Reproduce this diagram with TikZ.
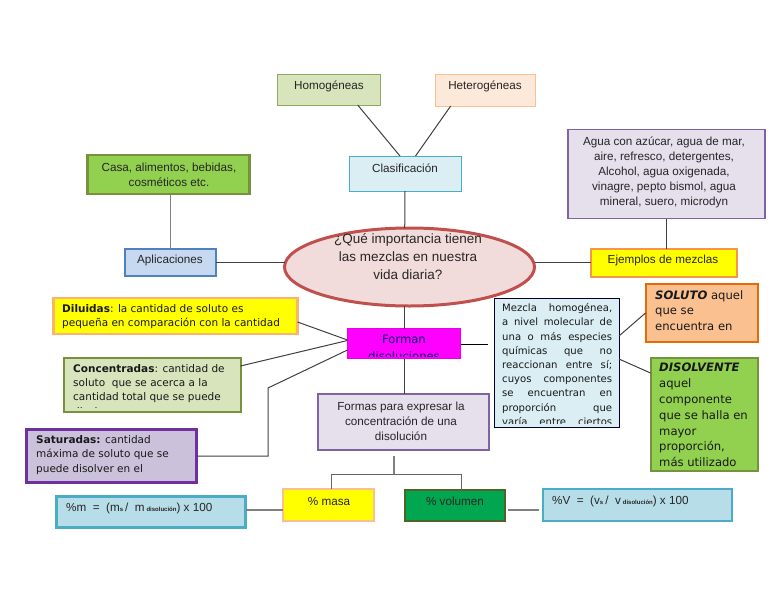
\documentclass[tikz,border=0pt]{standalone}
\usepackage{fontspec}
\usetikzlibrary{shapes.geometric}
\setmainfont{Liberation Sans}
\newfontfamily\verdanafont{DejaVu Sans}
\definecolor{lightgreen}{HTML}{D7E4BC}
\definecolor{darkgreen}{HTML}{76923C}
\definecolor{midgreen}{HTML}{92D050}
\definecolor{paleorange}{HTML}{FDE9D9}
\definecolor{midorange}{HTML}{F79646}
\definecolor{softorange}{HTML}{FAC08F}
\definecolor{deeporange}{HTML}{E36C09}
\definecolor{paleblue}{HTML}{DAEEF3}
\definecolor{cyanblue}{HTML}{4BACC6}
\definecolor{softblue}{HTML}{B7DDE8}
\definecolor{skyblue}{HTML}{C6D9F1}
\definecolor{steelblue}{HTML}{4F81BD}
\definecolor{palepurple}{HTML}{E5E0EC}
\definecolor{midpurple}{HTML}{8064A2}
\definecolor{softpurple}{HTML}{CCC1DA}
\definecolor{deeppurple}{HTML}{7030A0}
\definecolor{palered}{HTML}{F2DCDB}
\definecolor{midred}{HTML}{C0504D}
\definecolor{mixgreen}{HTML}{00A650}
\definecolor{olivegreen}{HTML}{4F6228}
\definecolor{linkgray}{HTML}{404040}
\definecolor{mapyellow}{HTML}{FFFF00}
\definecolor{mapmagenta}{HTML}{FF00FF}
\tikzset{
  mapbox/.style={draw, rectangle, inner sep=0pt, outer sep=0pt},
  arialtext/.style={inner sep=0pt, align=center, text=black!85, font=\fontsize{11.7}{15.2}\selectfont},
  verdanatext/.style={inner sep=0pt, anchor=west, align=left, text=black!90, font=\verdanafont\fontsize{10.5}{14.3}\selectfont},
  bigtext/.style={inner sep=0pt, anchor=west, align=left, text=black!90, font=\verdanafont\fontsize{11.6}{15.8}\selectfont},
  link/.style={draw=linkgray, line width=1pt},
  graylink/.style={draw=gray, line width=1.5pt}
}
\newcommand{\jline}[1]{\makebox[110pt][s]{#1}}
\newcommand{\tinysub}[1]{{\fontsize{6}{6}\selectfont\bfseries #1}}
\begin{document}
\begin{tikzpicture}[x=1pt,y=-1pt]
  \useasboundingbox (0,0) rectangle (768,594);
  % Central question
  \node[mapbox, shape=ellipse, draw=midred, fill=palered, line width=3pt, minimum width=250pt, minimum height=78pt] (question) at (409.5,267) {};
  \node[arialtext, font=\fontsize{13.5}{18}\selectfont] (questiontext) at (408,256.5) {¿Qué importancia tienen\\las mezclas en nuestra\\vida diaria?};
  % Classification
  \node[mapbox, draw=darkgreen!80, fill=lightgreen, line width=1pt, minimum width=103pt, minimum height=31pt] (homog) at (328.5,89.5) {};
  \node[arialtext] (homogtext) at (329,86.5) {Homogéneas};
  \node[mapbox, draw=softorange, fill=paleorange, line width=1pt, minimum width=100pt, minimum height=32pt] (heterog) at (485,90) {};
  \node[arialtext] (heterogtext) at (485,86.5) {Heterogéneas};
  \node[mapbox, draw=cyanblue, fill=paleblue, line width=1pt, minimum width=112pt, minimum height=35pt] (clasif) at (405,173.5) {};
  \node[arialtext] (clasiftext) at (405,168) {Clasificación};
  % Applications
  \node[mapbox, draw=darkgreen, fill=midgreen, line width=2.5pt, minimum width=162pt, minimum height=39pt] (casa) at (168.5,174.5) {};
  \node[arialtext] (casatext) at (169,175) {Casa, alimentos, bebidas,\\cosméticos etc.};
  \node[mapbox, draw=steelblue, fill=skyblue, line width=2.5pt, minimum width=91pt, minimum height=27pt] (aplic) at (170.5,262.5) {};
  \node[arialtext] (aplictext) at (170,260) {Aplicaciones};
  % Examples
  \node[mapbox, draw=midpurple, fill=palepurple, line width=1.2pt, minimum width=197pt, minimum height=89pt] (agua) at (666.5,174) {};
  \node[arialtext] (aguatext) at (664,172.5) {Agua con azúcar, agua de mar,\\aire, refresco, detergentes,\\Alcohol, agua oxigenada,\\vinagre, pepto bismol, agua\\mineral, suero, microdyn};
  \node[mapbox, draw=midorange, fill=mapyellow, line width=2pt, minimum width=146pt, minimum height=28pt] (ejemplos) at (663.5,262.5) {};
  \node[arialtext] (ejemplostext) at (663,260) {Ejemplos de mezclas};
  % Types of solution
  \node[mapbox, draw=softorange!80!orange, fill=mapyellow, line width=2.2pt, minimum width=244pt, minimum height=36pt] (diluidas) at (175.5,316) {};
  \node[verdanatext] (diluidastext) at (62,316.5) {\textbf{Diluidas}: la cantidad de soluto es\\pequeña en comparación con la cantidad};
  \node[mapbox, draw=darkgreen, fill=lightgreen, line width=2pt, minimum width=177pt, minimum height=54pt] (concent) at (152,384.5) {};
  \begin{scope}
    \clip (63,359) rectangle (241,407);
    \node[verdanatext, anchor=north west] (concenttext) at (73,364) {\textbf{Concentradas}: cantidad de\\soluto\ \ que se acerca a la\\cantidad total que se puede\\disolver};
  \end{scope}
  \node[mapbox, draw=deeppurple, fill=softpurple, line width=2.2pt, minimum width=170pt, minimum height=53pt] (saturadas) at (111.5,456) {};
  \node[verdanatext] (saturadastext) at (36,455) {\textbf{Saturadas:} cantidad\\máxima de soluto que se\\puede disolver en el};
  % Solutions
  \node[mapbox, draw=mapmagenta!90!black, fill=mapmagenta, line width=1pt, minimum width=113pt, minimum height=30pt] (forman) at (404,343.5) {};
  \begin{scope}
    \clip (347,328) rectangle (461,356);
    \node[arialtext, text=black!60!blue, font=\verdanafont\fontsize{11.6}{17}\selectfont] (formantext) at (404,347.5) {Forman\\disoluciones};
  \end{scope}
  \node[mapbox, draw=midpurple, fill=palepurple, line width=2pt, minimum width=171pt, minimum height=56pt] (formas) at (403,421.5) {};
  \node[arialtext] (formastext) at (401,421.5) {Formas para expresar la\\concentración de una\\disolución};
  % Definition and its components
  \node[mapbox, draw=black!85!blue, fill=paleblue, line width=1pt, minimum width=125pt, minimum height=129pt] (mezcla) at (556.5,362.5) {};
  \begin{scope}
    \clip (494,298) rectangle (619,423.5);
    \node[verdanatext, anchor=north west, font=\verdanafont\fontsize{10.1}{14.2}\selectfont] (mezclatext) at (502,303.5) {\jline{Mezcla homogénea,}\\\jline{a nivel molecular de}\\\jline{una o más especies}\\\jline{químicas que no}\\\jline{reaccionan entre sí;}\\\jline{cuyos componentes}\\\jline{se encuentran en}\\\jline{proporción que}\\\jline{varía entre ciertos}};
  \end{scope}
  \node[mapbox, draw=deeporange, fill=softorange, line width=2pt, minimum width=112pt, minimum height=58pt] (soluto) at (701.5,312.5) {};
  \node[bigtext] (solutotext) at (655,310.5) {\textbf{\textit{SOLUTO}} aquel\\que se\\encuentra en};
  \node[mapbox, draw=darkgreen, fill=midgreen, line width=2pt, minimum width=107pt, minimum height=113pt] (disolv) at (704,414) {};
  \node[bigtext] (disolvtext) at (659,415) {\textbf{\textit{DISOLVENTE}}\\aquel\\componente\\que se halla en\\mayor\\proporción,\\más utilizado};
  % Ways of expressing concentration
  \node[mapbox, draw=softorange, fill=mapyellow, line width=2pt, minimum width=91pt, minimum height=32pt] (masa) at (328.5,505) {};
  \node[arialtext] (masatext) at (329,501) {\% masa};
  \node[mapbox, draw=olivegreen, fill=mixgreen, line width=2.5pt, minimum width=100pt, minimum height=31pt] (volumen) at (455,505.5) {};
  \node[arialtext] (volumentext) at (455,501) {\% volumen};
  \node[mapbox, draw=cyanblue, fill=softblue, line width=2.2pt, minimum width=189pt, minimum height=31pt] (formulam) at (151,512) {};
  \node[arialtext, anchor=west] (formulamtext) at (66,508) {\%m\ \ =\ \ (m\tinysub{s}\,/\ \ m\,\tinysub{disolución}) x 100};
  \node[mapbox, draw=cyanblue, fill=softblue, line width=2pt, minimum width=189pt, minimum height=32pt] (formulav) at (637,505) {};
  \node[arialtext, anchor=west] (formulavtext) at (552,501) {\%V\ \ =\ \ (v\tinysub{s}\,/\ \ v\,\tinysub{disolución}) x 100};
  % Free ends of the connectors
  \coordinate (mezclaend) at (488,344);
  \coordinate (satcorner) at (268,388);
  \coordinate (treetop) at (394,456);
  \coordinate (treemid) at (394,474);
  \coordinate (treeleft) at (331,474);
  \coordinate (treeright) at (461,474);
  \coordinate (volend) at (508,510);
  \coordinate (fvend) at (539,510);
  % Connectors
  \draw[link] (homog.-28) -- (clasif.106);
  \draw[link] (heterog.-155) -- (clasif.59);
  \draw[link] (clasif.south) -- (question.97);
  \draw[graylink] (aplic.north) -- (aplic.north |- casa.south);
  \draw[link] (aplic.east) -- (aplic.east -| question.west);
  \draw[link] (ejemplos.west) -- (ejemplos.west -| question.east);
  \draw[link] (agua.south) -- (agua.south |- ejemplos.north);
  \draw[link] (question.south -| forman.north) -- (forman.north);
  \draw[link] (forman.south) -- (forman.south |- formas.north);
  \draw[link, draw=black] (forman.east |- mezclaend) -- (mezclaend);
  \draw[link] (diluidas.east |- 0,322) -- (forman.west |- 0,340);
  \draw[link] (concent.east |- 0,366) -- (forman.west |- 0,340.5);
  \draw[link] (saturadas.east) -- (saturadas.east -| satcorner) -- (satcorner) -- (forman.west |- 0,350);
  \draw[link] (mezcla.east |- 0,336) -- (soluto.west |- 0,313);
  \draw[link] (mezcla.east |- 0,359) -- (disolv.west |- 0,373);
  \draw[graylink] (treetop) -- (treemid);
  \draw[link, draw=gray!80!black] (treeleft |- masa.north) -- (treeleft) -- (treeright) -- (treeright |- volumen.north);
  \draw[graylink] (formulam.east |- 0,510) -- (masa.west |- 0,510);
  \draw[graylink] (volend) -- (fvend);
\end{tikzpicture}
\end{document}
